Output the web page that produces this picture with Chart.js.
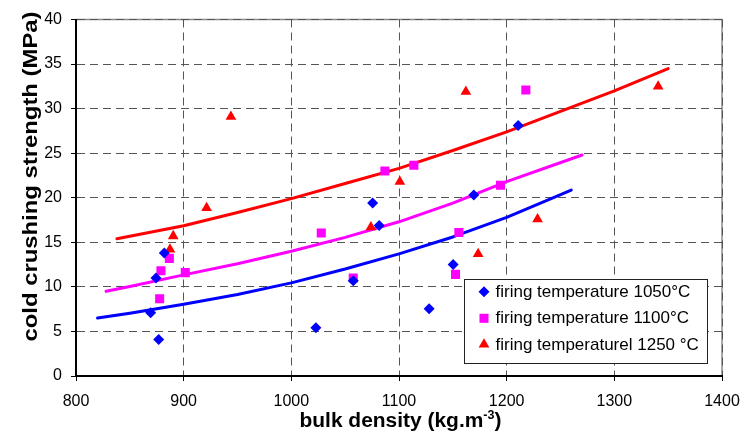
<!DOCTYPE html>
<html>
<head>
<meta charset="utf-8">
<script src="https://cdn.jsdelivr.net/npm/chart.js@4/dist/chart.umd.min.js"></script>
<style>
  html, body { margin: 0; padding: 0; background: #fff; }
  #wrap { width: 744px; height: 432px; position: relative; }
</style>
</head>
<body>
<div id="wrap"><canvas id="c" width="744" height="432"></canvas></div>
<script>
// ---- data ----
const seriesLabels = ['firing temperature 1050°C', 'firing temperature 1100°C', 'firing temperaturel 1250 °C'];

const densityBlue  = [869.3, 876.8, 874.3, 882.0, 1022.8, 1057.5, 1075.5, 1081.6, 1128.0, 1150.3, 1169.5, 1210.7];
const strengthBlue = [7.1, 4.1, 11.0, 13.8, 5.4, 10.7, 19.4, 16.9, 7.55, 12.5, 20.3, 28.1];

const densityPink  = [877.7, 878.9, 886.7, 901.5, 1027.8, 1057.5, 1086.9, 1113.8, 1152.5, 1155.6, 1194.3, 1217.8];
const strengthPink = [8.67, 11.8, 13.2, 11.6, 16.05, 11.0, 23.0, 23.65, 11.4, 16.1, 21.4, 32.1];

const densityRed   = [887.3, 890.3, 921.3, 943.9, 1073.9, 1100.8, 1162.1, 1173.5, 1228.7, 1340.7];
const strengthRed  = [14.2, 15.7, 18.85, 29.1, 16.7, 21.8, 31.9, 13.7, 17.6, 32.5];

const trendXBlue = [820, 850, 900, 950, 1000, 1050, 1100, 1150, 1200, 1260];
const trendYBlue = [6.5, 7.05, 8.05, 9.15, 10.45, 12.0, 13.7, 15.6, 17.8, 20.85];
const trendXPink = [828, 850, 900, 950, 1000, 1050, 1100, 1150, 1200, 1270];
const trendYPink = [9.5, 10.05, 11.35, 12.6, 14.0, 15.55, 17.3, 19.4, 21.8, 24.8];
const trendXRed  = [838, 900, 950, 1000, 1050, 1100, 1150, 1200, 1250, 1300, 1350];
const trendYRed  = [15.4, 16.85, 18.35, 19.9, 21.6, 23.3, 25.3, 27.4, 29.7, 32.0, 34.5];

const xMin = 800, xMax = 1400, xStep = 100;
const yMin = 0, yMax = 40, yStep = 5;
const xTitle = ['bulk density (kg.m', '-3', ')'];
const yTitle = 'cold crushing strength (MPa)';

// ---- build ----
const pts = (xs, ys) => xs.map((x, i) => ({ x: x, y: ys[i] }));
const FONT = '"Liberation Sans", Arial, Helvetica, sans-serif';
Chart.defaults.font.family = FONT;
Chart.defaults.color = '#000';

const colors = ['#0000FF', '#FF00FF', '#FF0000'];
const styles = ['rectRot', 'rect', 'triangle'];
const radii = [5.5, 6.4, 6.2];

function markerPath(ctx, style, x, y, r) {
  ctx.beginPath();
  if (style === 'rectRot') {
    ctx.moveTo(x, y - r); ctx.lineTo(x + r, y); ctx.lineTo(x, y + r); ctx.lineTo(x - r, y);
  } else if (style === 'rect') {
    const s = r * Math.SQRT1_2;
    ctx.rect(x - s, y - s, 2 * s, 2 * s);
  } else {
    ctx.moveTo(x, y - r);
    ctx.lineTo(x + r * Math.sin(2 * Math.PI / 3), y + r * 0.5);
    ctx.lineTo(x - r * Math.sin(2 * Math.PI / 3), y + r * 0.5);
  }
  ctx.closePath();
}

const framePlugin = {
  id: 'frame',
  beforeDraw(chart) {
    const { ctx, chartArea: a } = chart;
    ctx.save();
    ctx.strokeStyle = '#8a8a8a';
    ctx.lineWidth = 1.5;
    ctx.beginPath();
    ctx.moveTo(a.left, a.top);
    ctx.lineTo(a.right, a.top);
    ctx.lineTo(a.right, a.bottom);
    ctx.stroke();
    ctx.restore();
  }
};

const decorPlugin = {
  id: 'decor',
  afterDraw(chart) {
    const { ctx, chartArea: a } = chart;
    ctx.save();
    ctx.fillStyle = '#000';
    // y title
    ctx.font = 'bold 20px ' + FONT;
    const wy = ctx.measureText(yTitle).width;
    ctx.save();
    ctx.translate(31, 176.5);
    ctx.rotate(-Math.PI / 2);
    ctx.scale(330 / wy, 1);
    ctx.textAlign = 'center';
    ctx.textBaseline = 'middle';
    ctx.fillText(yTitle, 0, 0);
    ctx.restore();
    // x title with superscript
    ctx.font = 'bold 20px ' + FONT;
    const w1 = ctx.measureText(xTitle[0]).width;
    const w3 = ctx.measureText(xTitle[2]).width;
    ctx.font = 'bold 12px ' + FONT;
    const w2 = ctx.measureText(xTitle[1]).width;
    const tot = w1 + w2 + w3;
    const target = 202;
    ctx.save();
    ctx.translate((a.left + a.right) / 2 + 1.5 - target / 2, 427);
    ctx.scale(target / tot, 1);
    ctx.textAlign = 'left';
    ctx.textBaseline = 'alphabetic';
    ctx.font = 'bold 20px ' + FONT;
    ctx.fillText(xTitle[0], 0, 0);
    ctx.font = 'bold 12px ' + FONT;
    ctx.fillText(xTitle[1], w1, -8);
    ctx.font = 'bold 20px ' + FONT;
    ctx.fillText(xTitle[2], w1 + w2, 0);
    ctx.restore();
    // legend box
    ctx.fillStyle = '#fff';
    ctx.strokeStyle = '#222';
    ctx.lineWidth = 1;
    ctx.fillRect(464.5, 279.5, 243, 84);
    ctx.strokeRect(464.5, 279.5, 243, 84);
    const rowY = [291.7, 318.3, 344.5];
    ctx.font = '17px ' + FONT;
    ctx.textAlign = 'left';
    ctx.textBaseline = 'middle';
    for (let i = 0; i < 3; i++) {
      ctx.fillStyle = colors[i];
      markerPath(ctx, styles[i], 484, rowY[i], radii[i]);
      ctx.fill();
      ctx.fillStyle = '#000';
      ctx.fillText(chart.data.datasets[i].label, 495.5, rowY[i] + 0.5);
    }
    ctx.restore();
  }
};

const scatterSets = [
  [densityBlue, strengthBlue],
  [densityPink, strengthPink],
  [densityRed, strengthRed]
].map((d, i) => ({
  type: 'scatter',
  label: seriesLabels[i],
  data: pts(d[0], d[1]),
  pointStyle: styles[i],
  pointRadius: radii[i],
  pointHoverRadius: radii[i],
  backgroundColor: colors[i],
  borderColor: colors[i],
  borderWidth: 0
}));

const trendSets = [
  [trendXBlue, trendYBlue],
  [trendXPink, trendYPink],
  [trendXRed, trendYRed]
].map((d, i) => ({
  type: 'line',
  label: 'trend ' + seriesLabels[i],
  data: pts(d[0], d[1]),
  borderColor: colors[i],
  borderWidth: 3,
  pointRadius: 0,
  fill: false,
  tension: 0,
  borderJoinStyle: 'round',
  borderCapStyle: 'round',
  showLine: true
}));

new Chart(document.getElementById('c'), {
  type: 'scatter',
  data: { datasets: scatterSets.concat(trendSets) },
  options: {
    responsive: false,
    animation: false,
    devicePixelRatio: 1,
    layout: { padding: { top: 19.5, right: 22, left: 0, bottom: 0 } },
    plugins: { legend: { display: false }, tooltip: { enabled: false } },
    scales: {
      x: {
        type: 'linear', min: xMin, max: xMax,
        ticks: { stepSize: xStep, font: { size: 16 }, color: '#000', padding: 11, maxRotation: 0,
                 callback: v => String(v) },
        grid: { color: '#555', lineWidth: 1, tickColor: '#000', tickLength: 5, tickWidth: 1 },
        border: { display: true, color: '#000', width: 2, dash: [8, 5] },
        afterFit: s => { s.height = 56; s.paddingLeft = 0; s.paddingRight = 0; }
      },
      y: {
        type: 'linear', min: yMin, max: yMax,
        ticks: { stepSize: yStep, font: { size: 16 }, color: '#000', padding: 9,
                 callback: v => String(v) },
        grid: { color: '#555', lineWidth: 1, tickColor: '#000', tickLength: 5, tickWidth: 1 },
        border: { display: true, color: '#000', width: 2, dash: [8, 5] },
        afterFit: s => { s.width = 76; s.paddingTop = 0; s.paddingBottom = 0; }
      }
    }
  },
  plugins: [framePlugin, decorPlugin]
});
</script>
</body>
</html>
